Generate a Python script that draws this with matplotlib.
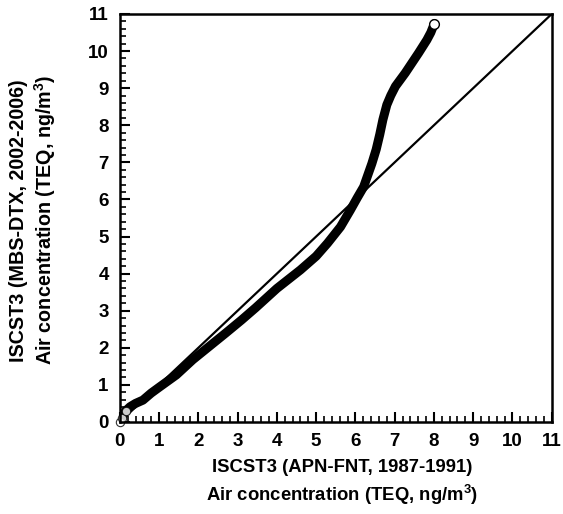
import numpy as np
import matplotlib.pyplot as plt
from matplotlib.ticker import MultipleLocator

plt.rcParams['font.family'] = ['Liberation Sans', 'DejaVu Sans']
plt.rcParams['font.weight'] = 'bold'
plt.rcParams['mathtext.fontset'] = 'custom'
plt.rcParams['mathtext.rm'] = 'Liberation Sans:bold'
plt.rcParams['mathtext.bf'] = 'Liberation Sans:bold'
plt.rcParams['mathtext.default'] = 'bf'

# quantiles
apn_fnt = [0.0, 0.05, 0.15, 0.26, 0.4, 0.59, 0.8, 1.02, 1.44, 1.86, 2.28, 2.7,
           3.1, 3.46, 4.0, 4.6, 5.0, 5.29, 5.62, 5.87, 6.05, 6.21, 6.42, 6.53,
           6.62, 6.7, 6.8, 6.9, 7.02, 7.27, 7.61, 7.82, 7.92, 8.01]
mbs_dtx = [0.0, 0.12, 0.3, 0.41, 0.5, 0.59, 0.78, 0.95, 1.27, 1.68, 2.04, 2.4,
           2.75, 3.08, 3.6, 4.1, 4.47, 4.82, 5.26, 5.71, 6.05, 6.34, 6.97, 7.35,
           7.75, 8.15, 8.55, 8.8, 9.05, 9.41, 9.95, 10.3, 10.5, 10.74]
ticks = list(range(0, 12))

fig = plt.figure(figsize=(5.63, 5.14), dpi=100)
ax = fig.add_axes([0.2128, 0.179, 0.98 - 0.2128, 0.9728 - 0.179])

ax.plot([0, 11], [0, 11], color='black', lw=1.6)
ax.plot(apn_fnt, mbs_dtx, color='black', lw=6.5, solid_capstyle='round',
        solid_joinstyle='round')
ax.plot(apn_fnt[:3], mbs_dtx[:3], 'o', ms=6, mfc='white', mec='black', mew=0.8,
        clip_on=False, alpha=0.8)
ax.plot(apn_fnt[-1], mbs_dtx[-1], 'o', ms=7, mfc='white', mec='black', mew=1)

ax.set_xlim(0, 11)
ax.set_ylim(0, 11)
ax.set_xticks(ticks)
ax.set_yticks(ticks)
ax.xaxis.set_minor_locator(MultipleLocator(0.2))
ax.yaxis.set_minor_locator(MultipleLocator(0.2))
ax.tick_params(which='major', direction='in', length=7, width=1.5,
               labelsize=13.5, pad=8)
ax.tick_params(which='minor', direction='in', length=4, width=1.2)
for s in ax.spines.values():
    s.set_linewidth(1.8)

fig.text(342 / 563, 1 - 467 / 514, 'ISCST3 (APN-FNT, 1987-1991)', ha='center',
         va='center', fontsize=13.3, fontweight='bold')
fig.text(342 / 563, 1 - 495 / 514, r'Air concentration (TEQ, ng/m$^{3}$)',
         ha='center', va='center', fontsize=13.3, fontweight='bold')
fig.text(18.5 / 563, 1 - 221 / 514, 'ISCST3 (MBS-DTX, 2002-2006)', ha='center',
         va='center', rotation=90, fontsize=14.2, fontweight='bold')
fig.text(45 / 563, 1 - 220 / 514, r'Air concentration (TEQ, ng/m$^{3}$)',
         ha='center', va='center', rotation=90, fontsize=14.2, fontweight='bold')

fig.savefig('out.png', dpi=100)
